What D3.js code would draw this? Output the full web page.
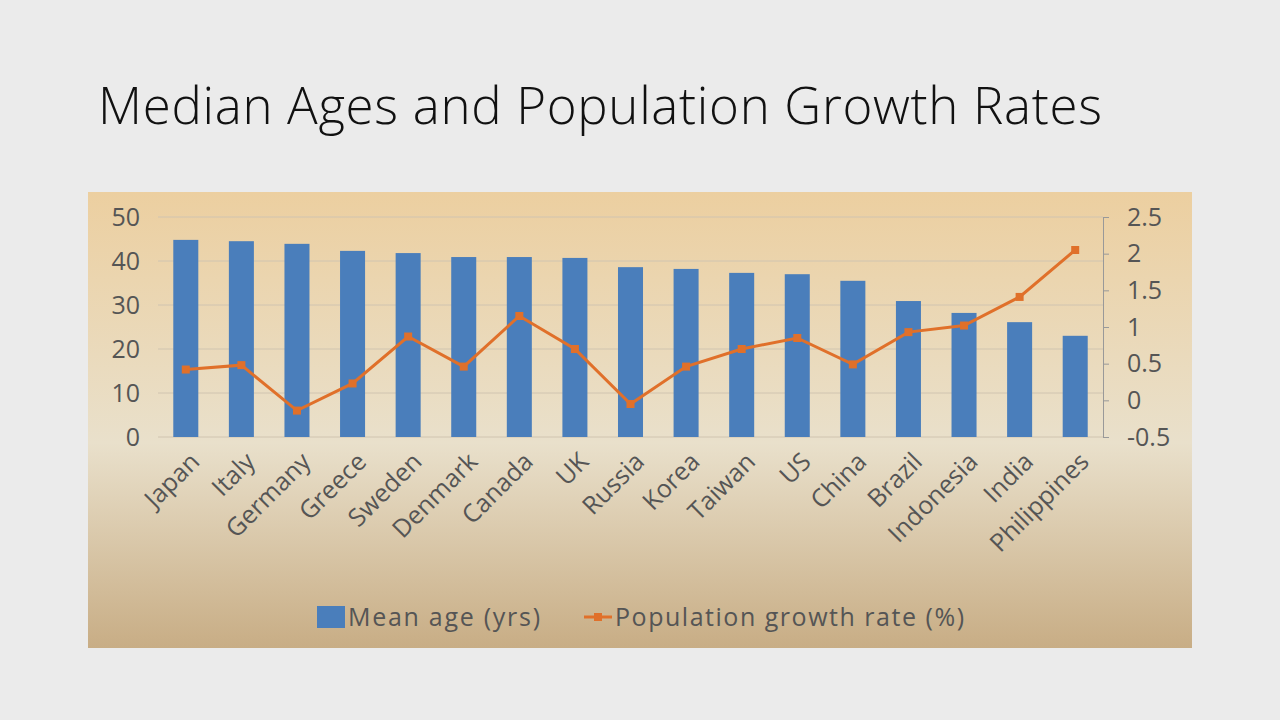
<!DOCTYPE html>
<html><head><meta charset="utf-8">
<script src="https://cdn.jsdelivr.net/npm/d3@7"></script>
<style>body{margin:0;background:#ebebeb;}svg{display:block;}</style>
</head><body>
<svg id="c" width="1280" height="720"></svg>
<script>
var countries = ["Japan","Italy","Germany","Greece","Sweden","Denmark","Canada","UK","Russia","Korea","Taiwan","US","China","Brazil","Indonesia","India","Philippines"];
var meanAge = [44.8,44.5,43.9,42.3,41.8,40.9,40.9,40.7,38.6,38.2,37.3,37.0,35.5,30.9,28.2,26.1,23.0];
var growth = [0.42,0.48,-0.14,0.23,0.87,0.46,1.15,0.70,-0.05,0.46,0.70,0.85,0.49,0.93,1.02,1.41,2.05];
var leftTicks = [0,10,20,30,40,50];
var rightTicks = [-0.5,0,0.5,1,1.5,2,2.5];

var svg = d3.select("#c");
var font = "'Open Sans', Lato, sans-serif";

svg.append("text").attr("x",98).attr("y",124).attr("font-family",font).attr("font-weight",300)
   .attr("font-size",51).attr("fill","#111").attr("textLength",1004).attr("lengthAdjust","spacing")
   .text("Median Ages and Population Growth Rates");

// chart background
var defs = svg.append("defs");
var g = defs.append("linearGradient").attr("id","bg").attr("x1",0).attr("y1",0).attr("x2",0).attr("y2",1);
g.append("stop").attr("offset","0%").attr("stop-color","#eccfa0");
g.append("stop").attr("offset","55%").attr("stop-color","#e9e0cb");
g.append("stop").attr("offset","100%").attr("stop-color","#c8ad85");
svg.append("rect").attr("x",88).attr("y",192).attr("width",1104).attr("height",456).attr("fill","url(#bg)");

var x = d3.scaleBand().domain(countries).range([158,1103]).paddingInner(0.55).paddingOuter(0.275);
var yL = d3.scaleLinear().domain([0,50]).range([437,217]);
var yR = d3.scaleLinear().domain([-0.5,2.5]).range([437,217]);

// grid
svg.append("g").selectAll("line").data(leftTicks).join("line")
  .attr("x1",158).attr("x2",1103).attr("y1",d=>yL(d)).attr("y2",d=>yL(d))
  .attr("stroke","#d0c4b0").attr("stroke-width",1);

svg.append("g").selectAll("rect").data(countries).join("rect")
  .attr("x",d=>x(d)).attr("width",x.bandwidth())
  .attr("y",(d,i)=>yL(meanAge[i])).attr("height",(d,i)=>437-yL(meanAge[i]))
  .attr("fill","#4a7ebb");

var axL = svg.append("g").attr("transform","translate(150,0)")
  .call(d3.axisLeft(yL).tickValues(leftTicks).tickSize(0).tickPadding(10));
axL.select(".domain").remove();
axL.selectAll("text").attr("font-family",font).attr("font-size",25).attr("fill","#555");

var axR = svg.append("g").attr("transform","translate(1103,0)")
  .call(d3.axisRight(yR).tickValues(rightTicks).tickSize(6).tickPadding(18).tickFormat(d=>String(d)));
axR.select(".domain").attr("stroke","#999");
axR.selectAll("line").attr("stroke","#999");
axR.selectAll("text").attr("font-family",font).attr("font-size",25).attr("fill","#555");

var cx = d=>x(d)+x.bandwidth()/2;
var line = d3.line().x((d,i)=>cx(countries[i])).y(d=>yR(d));
svg.append("path").datum(growth).attr("d",line).attr("fill","none").attr("stroke","#e0702a").attr("stroke-width",3);
svg.append("g").selectAll("rect").data(growth).join("rect")
  .attr("x",(d,i)=>cx(countries[i])-4).attr("y",d=>yR(d)-4).attr("width",8).attr("height",8).attr("fill","#e0702a");

// category labels
svg.append("g").selectAll("text").data(countries).join("text")
  .attr("transform",d=>"translate("+(cx(d)+2)+",450) rotate(-45)")
  .attr("text-anchor","end").attr("dy","0.75em").attr("font-family",font).attr("font-size",25).attr("fill","#555")
  .text(d=>d);

// legend
var lg = svg.append("g");
lg.append("rect").attr("x",317).attr("y",606).attr("width",28).attr("height",22).attr("fill","#4a7ebb");
lg.append("text").attr("x",348).attr("y",626).attr("font-family",font).attr("font-size",25).attr("fill","#555")
  .attr("textLength",192).text("Mean age (yrs)");
lg.append("line").attr("x1",584).attr("x2",612).attr("y1",617).attr("y2",617).attr("stroke","#e0702a").attr("stroke-width",3);
lg.append("rect").attr("x",594).attr("y",613).attr("width",8).attr("height",8).attr("fill","#e0702a");
lg.append("text").attr("x",615).attr("y",626).attr("font-family",font).attr("font-size",25).attr("fill","#555")
  .attr("textLength",349).text("Population growth rate (%)");
</script>
</body></html>
